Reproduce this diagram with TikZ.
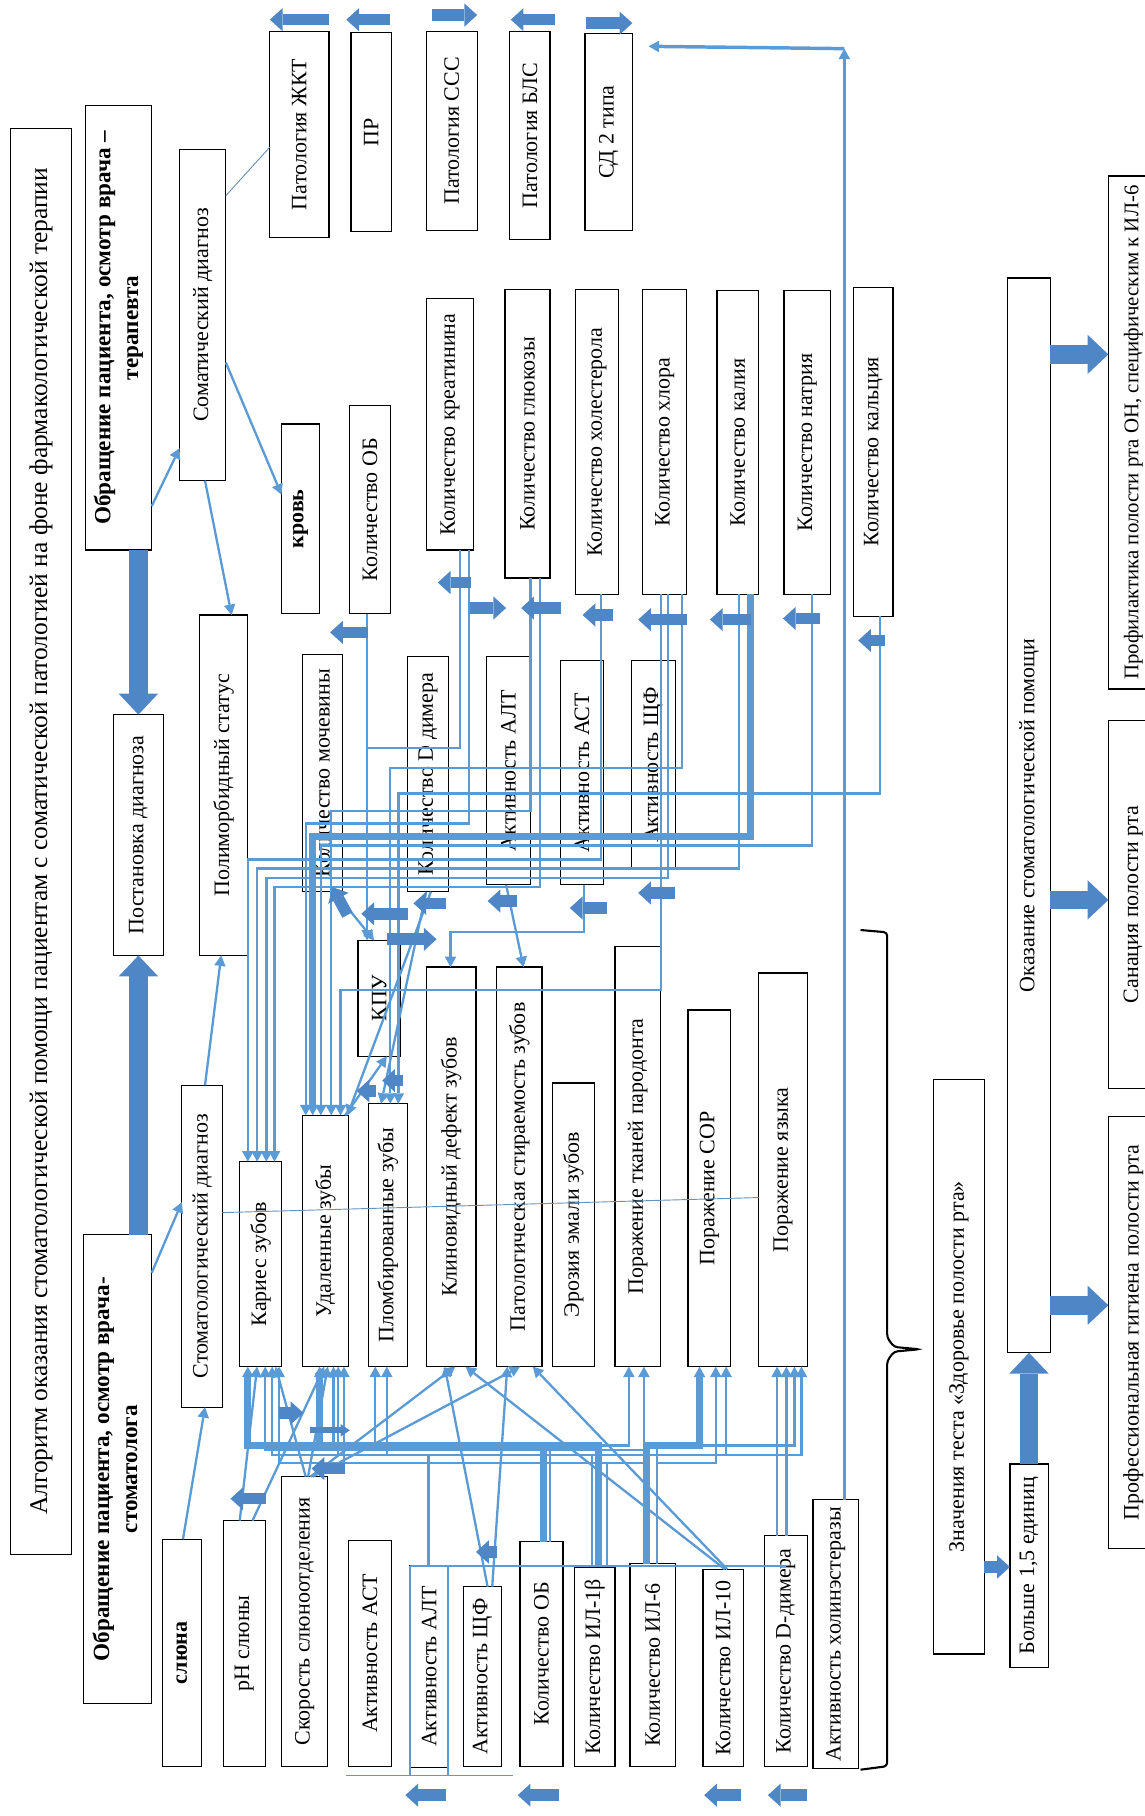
\documentclass[tikz,border=0pt]{standalone}
\usepackage{fontspec}
\setmainfont{Liberation Serif}
\usetikzlibrary{arrows.meta}
\definecolor{LinkBlue}{HTML}{5B9BD5}
\definecolor{FatBlue}{HTML}{4F87C6}
\tikzset{
  box/.style={draw, line width=1.1pt, inner sep=0pt, outer sep=0pt, font=\fontsize{19}{22}\selectfont},
  boldbox/.style={box, font=\bfseries\fontsize{20}{24}\selectfont},
  link/.style={draw=LinkBlue, line width=2pt},
  thicklink/.style={draw=LinkBlue, line width=3pt},
  buslink/.style={draw=LinkBlue, line width=6pt},
  faint/.style={draw=LinkBlue!70!gray, line width=0.8pt},
  tipend/.style={-{Triangle[length=9pt,width=10pt,line width=0pt]}},
  fat/.style={draw=FatBlue, line width=10pt, -{Triangle[length=11pt,width=20pt,line width=0pt]}},
  bigfat/.style={draw=FatBlue, line width=16pt, -{Triangle[length=18pt,width=34pt,line width=0pt]}}
}
\begin{document}
\begin{tikzpicture}[x=1pt,y=-1pt]
\useasboundingbox (0,0) rectangle (988,1568);

% left column
\node[box, minimum width=53pt, minimum height=1231pt, font=\fontsize{22}{26}\selectfont] (title) at (35.5,726.5)
  {\rotatebox{90}{Алгоритм оказания стоматологической помощи пациентам с соматической патологией на фоне фармакологической терапии}};
\node[boldbox, minimum width=57pt, minimum height=384pt] (terap) at (102.5,283)
  {\rotatebox{90}{\begin{tabular}{@{}c@{}}Обращение пациента, осмотр врача –\\терапевта\end{tabular}}};
\node[boldbox, minimum width=59pt, minimum height=405pt] (stomat) at (101.5,1268.5)
  {\rotatebox{90}{\begin{tabular}{@{}c@{}}Обращение пациента, осмотр врача-\\стоматолога\end{tabular}}};
\node[box, minimum width=43pt, minimum height=208pt] (postan) at (119.5,721) {\rotatebox{90}{Постановка диагноза}};
\node[box, minimum width=40pt, minimum height=286pt] (somdiag) at (175,272) {\rotatebox{90}{Соматический диагноз}};
\node[box, minimum width=42pt, minimum height=294pt] (poly) at (193,678) {\rotatebox{90}{Полиморбидный статус}};
\node[box, minimum width=35pt, minimum height=278pt] (stomdiag) at (174.5,1076) {\rotatebox{90}{Стоматологический диагноз}};

% somatic pathology
\node[box, minimum width=51pt, minimum height=178pt] (gkt) at (258.5,116) {\rotatebox{90}{Патология ЖКТ}};
\node[box, minimum width=35pt, minimum height=172pt] (pr) at (320.5,114) {\rotatebox{90}{ПР}};
\node[box, minimum width=44pt, minimum height=172pt] (sss) at (390,113) {\rotatebox{90}{Патология ССС}};
\node[box, minimum width=35pt, minimum height=180pt] (bls) at (457.5,117) {\rotatebox{90}{Патология БЛС}};
\node[box, minimum width=41pt, minimum height=170pt] (sd) at (525.5,114) {\rotatebox{90}{СД 2 типа}};

% blood
\node[box, font=\bfseries\fontsize{19}{22}\selectfont, minimum width=33pt, minimum height=164pt] (krov) at (259.5,448) {\rotatebox{90}{кровь}};
\node[box, minimum width=35pt, minimum height=180pt] (obU) at (319.5,440) {\rotatebox{90}{Количество ОБ}};
\node[box, minimum width=41pt, minimum height=217pt] (kreat) at (388.5,366.5) {\rotatebox{90}{Количество креатинина}};
\node[box, minimum width=39pt, minimum height=249pt] (gluk) at (455.5,374.5) {\rotatebox{90}{Количество глюкозы}};
\node[box, minimum width=37pt, minimum height=263pt] (hol) at (515.5,381.5) {\rotatebox{90}{Количество холестерола}};
\node[box, minimum width=38pt, minimum height=263pt] (hlor) at (574,381.5) {\rotatebox{90}{Количество хлора}};
\node[box, minimum width=36pt, minimum height=262pt] (kal) at (637,382) {\rotatebox{90}{Количество калия}};
\node[box, minimum width=40pt, minimum height=262pt] (natr) at (697,382) {\rotatebox{90}{Количество натрия}};
\node[box, minimum width=34pt, minimum height=284pt] (kalc) at (754,390) {\rotatebox{90}{Количество кальция}};

\node[box, minimum width=35pt, minimum height=205pt] (moch) at (278.5,667.5) {\rotatebox{90}{Количество мочевины}};
\node[box, minimum width=37pt, minimum height=100pt] (kpu) at (327.5,862) {\rotatebox{90}{КПУ}};
\node[box, minimum width=35pt, minimum height=203pt] (ddimU) at (369.5,668.5) {\rotatebox{90}{Количество D димера}};
\node[box, minimum width=38pt, minimum height=197pt] (altU) at (439,665.5) {\rotatebox{90}{Активность АЛТ}};
\node[box, minimum width=37pt, minimum height=194pt] (astU) at (502.5,667) {\rotatebox{90}{Активность АСТ}};
\node[box, minimum width=38pt, minimum height=181pt] (shfU) at (564,660.5) {\rotatebox{90}{Активность ЩФ}};

% dental findings
\node[box, minimum width=36pt, minimum height=177pt] (kar) at (225,1091.5) {\rotatebox{90}{Кариес зубов}};
\node[box, minimum width=40pt, minimum height=217pt] (udal) at (281,1071.5) {\rotatebox{90}{Удаленные зубы}};
\node[box, minimum width=34pt, minimum height=227pt] (plomb) at (335,1066.5) {\rotatebox{90}{Пломбированные зубы}};
\node[box, minimum width=43pt, minimum height=345pt] (klin) at (389.5,1007.5) {\rotatebox{90}{Клиновидный дефект зубов}};
\node[box, minimum width=39pt, minimum height=345pt] (stir) at (448.5,1007.5) {\rotatebox{90}{Патологическая стираемость зубов}};
\node[box, minimum width=36pt, minimum height=245pt] (eroz) at (495,1057.5) {\rotatebox{90}{Эрозия эмали зубов}};
\node[box, minimum width=39pt, minimum height=363pt] (parod) at (550.5,998.5) {\rotatebox{90}{Поражение тканей пародонта}};
\node[box, minimum width=37pt, minimum height=308pt] (sor) at (612.5,1026) {\rotatebox{90}{Поражение СОР}};
\node[box, minimum width=42pt, minimum height=340pt] (yaz) at (676,1010) {\rotatebox{90}{Поражение языка}};

% saliva
\node[box, font=\bfseries\fontsize{19}{22}\selectfont, minimum width=34pt, minimum height=196pt] (sluna) at (157,1427) {\rotatebox{90}{слюна}};
\node[box, minimum width=36pt, minimum height=212pt] (ph) at (211,1419) {\rotatebox{90}{pH слюны}};
\node[box, minimum width=40pt, minimum height=250pt] (skor) at (263,1400) {\rotatebox{90}{Скорость слюноотделения}};
\node[box, minimum width=37pt, minimum height=195pt] (astL) at (319.5,1427.5) {\rotatebox{90}{Активность АСТ}};
\node[box, minimum width=33pt, minimum height=174pt] (altL) at (370.5,1439) {\rotatebox{90}{Активность АЛТ}};
\node[box, minimum width=33pt, minimum height=155pt] (shfL) at (416.5,1447.5) {\rotatebox{90}{Активность ЩФ}};
\node[box, minimum width=37pt, minimum height=194pt] (obL) at (467.5,1428) {\rotatebox{90}{Количество ОБ}};
\node[box, minimum width=35pt, minimum height=172pt] (il1) at (513.5,1439) {\rotatebox{90}{Количество ИЛ-1β}};
\node[box, minimum width=39pt, minimum height=175pt] (il6) at (563.5,1437.5) {\rotatebox{90}{Количество ИЛ-6}};
\node[box, minimum width=35pt, minimum height=170pt] (il10) at (624.5,1440) {\rotatebox{90}{Количество ИЛ-10}};
\node[box, minimum width=37pt, minimum height=199pt] (ddimL) at (678.5,1425.5) {\rotatebox{90}{Количество D-димера}};
\node[box, minimum width=39pt, minimum height=232pt] (chol) at (721.5,1411) {\rotatebox{90}{Активность холинэстеразы}};

% right part
\node[box, minimum width=44pt, minimum height=496pt] (znach) at (828,1180) {\rotatebox{90}{Значения теста «Здоровье полости рта»}};
\node[box, minimum width=37pt, minimum height=928pt] (okaz) at (888.5,704) {\rotatebox{90}{Оказание стоматологической помощи}};
\node[box, minimum width=33pt, minimum height=176pt] (bolshe) at (888.5,1352) {\rotatebox{90}{Больше 1,5 единиц}};
\node[box, minimum width=43pt, minimum height=373pt] (gig) at (978.5,1150.5) {\rotatebox{90}{Профессиональная гигиена полости рта}};
\node[box, minimum width=43pt, minimum height=318pt] (san) at (978.5,781) {\rotatebox{90}{Санация полости рта}};
\node[box, minimum width=43pt, minimum height=443pt, font=\fontsize{18}{21}\selectfont] (prof) at (978.5,373.5) {\rotatebox{90}{Профилактика полости рта ОН, специфическим к ИЛ-6}};

% brace
\draw[line width=1.8pt, rounded corners=3pt] (743,803) -- (766,805) -- (766,1155) -- (772,1163) -- (794,1165)
  -- (772,1167) -- (766,1175) -- (766,1525) -- (743,1528);

% diagnosis flow
\draw[bigfat] (terap.south -| 119.5,0) -- (postan.north -| 119.5,0);
\draw[bigfat] (stomat.north -| 119.5,0) -- (postan.south -| 119.5,0);
\draw[link,tipend] (terap.east |- 0,437) -- (somdiag.west |- 0,387);
\draw[link,tipend] (somdiag.east |- 0,313) -- (krov.west |- 0,427);
\draw[link,tipend] (somdiag.south -| 177,0) -- (poly.north -| 200,0);
\draw[faint] (somdiag.east |- 0,169) -- (gkt.west |- 0,127);
\draw[link,tipend] (stomat.east |- 0,1099) -- (stomdiag.west |- 0,1038);
\draw[link,tipend] (stomdiag.north -| 177,0) -- (poly.south -| 191,0);
\draw[link,tipend] (sluna.north -| 158,0) -- (stomdiag.south -| 177,0);
\draw[faint] (stomdiag.east |- 0,1047) -- (yaz.west |- 0,1034);

% blood -> dental findings (upper bundle)
\foreach \src/\sx/\by/\tx/\dst in {hol/519/742/214/kar, kal/638/750/222/kar, hlor/577/758/230/kar,
    gluk/466/766/237/kar, kreat/405/711/264/udal, natr/701/730/277/udal, gluk/458/700/286/udal,
    hlor/571/855/294/udal, hlor/589/663/337/plomb, kalc/760/685/344/plomb}
  \draw[link,tipend] (\src.south -| \sx,0) |- (\tx,\by) -- (\dst.north -| \tx,0);
\draw[buslink,tipend] (kal.south -| 648,0) |- (270,722) -- (udal.north -| 270,0);
\coordinate (obJoin) at (317,646);
\draw[link,tipend] (obU.south -| 317,0) -- (kpu.north -| 317,0);
\draw[link] (kreat.south -| 397,0) |- (obJoin);
\draw[link,tipend] (moch.south -| 289,0) -- (kpu.north -| 323,0);
\draw[link,tipend] (udal.north -| 298,0) -- (kpu.south -| 334,0);
\draw[link,tipend] (ddimU.south -| 368,0) -- (plomb.north -| 329,0);
\draw[link,tipend] (ddimU.south -| 372,0) -- (udal.north -| 300,0);
\draw[link,tipend] (altU.south -| 437,0) -- (stir.north -| 452,0);
\draw[link,tipend] (astU.south -| 504,0) |- (389,805) -- (klin.north -| 389,0);

% saliva and blood -> dental findings (lower bundle)
\foreach \src/\sx/\by/\tx/\dst in {obL/475/1252/229/kar, il1/511/1256/235/kar, altL/370/1263/241/kar,
    il6/558/1252/288/udal, il6/567/1256/292/udal, il1/524/1263/297/udal,
    obL/469/1248/324/plomb, altL/370/1256/334/plomb, obL/469/1248/543/parod, il1/524/1263/556/parod,
    il6/567/1263/618/sor, il1/511/1256/627/sor, il6/567/1248/686/yaz, il1/517/1256/692/yaz}
  \draw[link,tipend] (\src.north -| \sx,0) |- (\tx,\by) -- (\dst.south -| \tx,0);
\foreach \src/\sx/\tx/\dst in {obL/469/214/kar, il1/517/276/udal, il6/558/604/sor}
  \draw[buslink,tipend] (\src.north -| \sx,0) |- (\tx,1248) -- (\dst.south -| \tx,0);
\foreach \x in {671,679}
  \draw[link,tipend] (ddimL.north -| \x,0) -- (yaz.south -| \x,0);
\draw[link,tipend] (shfL.north -| 421,0) -- (klin.south -| 384,0);
\draw[link,tipend] (shfL.north -| 425,0) -- (stir.south -| 438,0);
\draw[link,tipend] (il10.north -| 626,0) -- (klin.south -| 402,0);
\draw[link,tipend] (il10.north -| 628,0) -- (stir.south -| 460,0);
\draw[link,tipend] (skor.north -| 268,0) -- (klin.south -| 393,0);
\draw[link,tipend] (skor.north -| 270,0) -- (stir.south -| 449,0);
\draw[link,tipend] (skor.north -| 264,0) -- (kar.south -| 238,0);
\draw[link,tipend] (skor.north -| 266,0) -- (udal.south -| 283,0);
\draw[link,tipend] (ph.north -| 207,0) -- (kar.south -| 222,0);
\draw[link,tipend] (ph.north -| 218,0) -- (udal.south -| 280,0);

% bracket under the enzymes
\coordinate (brL) at (299,1533);
\coordinate (brR) at (443,1533);
\draw[link, line width=1pt] (brL) -- (brR);
\draw[link] (altL.north west) -- (altL.north west |- brL);
\draw[link] (altL.north east) -- (altL.north east |- brL);
\draw[link] (altL.north west) -- (altL.north west -| ddimL.center);

% cholinesterase -> diabetes
\coordinate (cornerC) at (729,42);
\coordinate (sdTip) at (560,40);
\draw[thicklink,tipend] (chol.north -| 729,0) -- (cornerC);
\draw[thicklink,tipend] (cornerC) -- (sdTip);

% treatment
\draw[fat] (znach.east |- 0,1353) -- (bolshe.west |- 0,1353);
\draw[bigfat] (bolshe.north) -- (okaz.south -| bolshe.north);
\draw[bigfat] (okaz.east |- 0,306) -- (prof.west |- 0,306);
\draw[bigfat] (okaz.east |- 0,777) -- (san.west |- 0,777);
\draw[bigfat] (okaz.east |- 0,1127) -- (gig.west |- 0,1127);

% block arrows
\foreach \xa/\ya/\xb/\yb in {284/17/233/17, 337/17/299/17, 373/13/412/13, 479/17/441/17, 506/20/546/20,
    318/546/285/546, 407/503/378/503, 406/525/437/525, 484/525/450/525, 529/531/503/531,
    593/535/551/535, 648/535/613/535, 708/534/676/534, 764/553/741/553,
    352/789/312/789, 334/811/377/811, 385/780/357/780, 446/778/421/778, 524/784/492/784,
    583/771/551/771, 348/933/330/933, 325/942/308/942, 300/790/287/766,
    241/1220/262/1220, 298/1268/269/1268, 230/1294/199/1294, 429/1340/411/1340,
    385/1550/350/1550, 483/1550/447/1550, 640/1550/608/1550, 697/1550/663/1550}
  \draw[fat] (\xa,\ya) -- (\xb,\yb);
\draw[draw=FatBlue, line width=5pt, -{Triangle[length=8pt,width=11pt,line width=0pt]}] (268,1235) -- (302,1235);
\end{tikzpicture}
\end{document}
